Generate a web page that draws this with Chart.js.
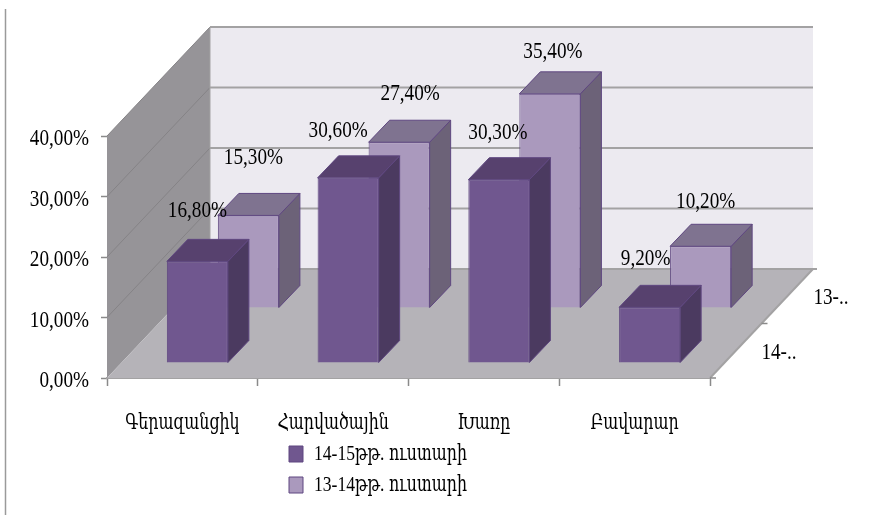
<!DOCTYPE html>
<html>
<head>
<meta charset="utf-8">
<style>
body{margin:0;background:#fff}
canvas{display:block;filter:blur(.35px)}
</style>
<script src="https://cdn.jsdelivr.net/npm/chart.js@4"></script>
</head>
<body>
<canvas id="chart" width="884" height="515"></canvas>
<script>
const categories = ["Գերազանցիկ","Հարվածային","Խառը","Բավարար"];
const series1Name = "14-15թթ. ուստարի";
const series2Name = "13-14թթ. ուստարի";
const series1 = [16.8,30.6,30.3,9.2];
const series2 = [15.3,27.4,35.4,10.2];
const depthLabels = ["14-..","13-.."];

const FONT = "'Liberation Serif','DejaVu Serif Condensed','DejaVu Serif',serif";
const fmt = v => v.toFixed(2).replace(".",",")+"%";

// depth of the fake 3d box
const wall = {dx:103,dy:-109};
const bar3d = {dx:21,dy:-22};
const shift = [{dx:15,dy:-15},{dx:66,dy:-70}];
const barCol = [
  {front:"#70578f",side:"#4b3a60",top:"#57416e"},
  {front:"#aa99bd",side:"#6c6278",top:"#7f7390"}
];
const labelOff = [[[0,-51],[-10,-47],[-1,-47],[-4,-49]],[[5,-58],[11,-49],[3,-42],[5,-45]]];

function poly(ctx,pts,fill,stroke){
  ctx.beginPath();
  pts.forEach((p,i)=> i ? ctx.lineTo(p[0],p[1]) : ctx.moveTo(p[0],p[1]));
  ctx.closePath();
  if(fill){ctx.fillStyle=fill;ctx.fill();}
  if(stroke){ctx.strokeStyle=stroke;ctx.lineWidth=1;ctx.stroke();}
}
function line(ctx,x1,y1,x2,y2,col,w){
  ctx.beginPath();ctx.moveTo(x1,y1);ctx.lineTo(x2,y2);
  ctx.strokeStyle=col;ctx.lineWidth=w||1;ctx.stroke();
}

const canvas = document.getElementById("chart");
// the reference text is squeezed sideways, no condensed serif is installed so do it here
const ctx2d = canvas.getContext("2d");
const plainFillText = ctx2d.fillText;
ctx2d.fillText = function(t,x,y,m){
  this.save();
  this.translate(x,y);
  this.scale(.8,1);
  plainFillText.call(this,t,0,0);
  this.restore();
};

const box3d = {
  id:"box3d",
  afterLayout(chart){
    const l = chart.legend;
    l.left = 280; l.right = l.left+l.width;
    l.top = 434; l.bottom = l.top+l.height;
  },
  beforeDatasetsDraw(chart){
    const {ctx,chartArea:a,scales:{y}} = chart;
    const l=a.left,r=a.right,b=y.getPixelForValue(0),t=y.getPixelForValue(40);
    const dx=wall.dx,dy=wall.dy;
    ctx.save();
    // page edge line
    line(ctx,5.5,9,5.5,515,"#9a9a9a",1.5);
    poly(ctx,[[l+dx,t+dy],[r+dx,t+dy],[r+dx,b+dy],[l+dx,b+dy]],"#eceaf0");
    poly(ctx,[[l,t],[l+dx,t+dy],[l+dx,b+dy],[l,b]],"#969498");
    poly(ctx,[[l,b],[r,b],[r+dx,b+dy],[l+dx,b+dy]],"#b5b3b8");
    y.ticks.forEach(tk=>{
      if(tk.value==0) return;
      const p=y.getPixelForValue(tk.value);
      line(ctx,l,p,l+dx,p+dy,"#858386",1);
      line(ctx,l+dx,p+dy,r+dx,p+dy,"#a3a2a3",2);
    });
    line(ctx,l+dx,t+dy,l+dx,b+dy,"#a3a2a3",1);
    line(ctx,l+dx,b+dy,r+dx+4,b+dy,"#a3a2a3",2);
    // depth axis on the right of the floor
    line(ctx,r,b,r+dx,b+dy,"#a3a2a3",2);
    line(ctx,r+dx/2,b+dy/2,r+dx/2+6,b+dy/2,"#8a8a8a",1.5);
    line(ctx,r,b,r+6,b,"#8a8a8a",1.5);
    ctx.fillStyle="#000";ctx.font="24px "+FONT;ctx.textAlign="center";ctx.textBaseline="middle";
    ctx.fillText(depthLabels[0],r+69,b-25);
    ctx.fillText(depthLabels[1],r+121,b-80);
    ctx.restore();
  },
  beforeDatasetDraw(chart,args){
    const ctx=chart.ctx,s=shift[args.index],c=barCol[args.index];
    ctx.save();
    ctx.translate(s.dx,s.dy);
    args.meta.data.forEach(bar=>{
      const w=bar.width/2,x0=bar.x-w,x1=bar.x+w,top=bar.y,base=bar.base;
      const dx=bar3d.dx,dy=bar3d.dy;
      poly(ctx,[[x1,top],[x1+dx,top+dy],[x1+dx,base+dy],[x1,base]],c.side,"#5f4780");
      poly(ctx,[[x0,top],[x0+dx,top+dy],[x1+dx,top+dy],[x1,top]],c.top,"#5f4780");
    });
  },
  afterDatasetDraw(chart){
    chart.ctx.restore();
  },
  afterDatasetsDraw(chart){
    const ctx=chart.ctx;
    ctx.save();
    ctx.font="24px "+FONT;ctx.fillStyle="#000";ctx.textAlign="center";ctx.textBaseline="middle";
    // back series first, same as the bars
    [1,0].forEach(i=>{
      const meta=chart.getDatasetMeta(i),s=shift[i];
      meta.data.forEach((bar,j)=>{
        const o=labelOff[i][j];
        ctx.fillText(fmt(chart.data.datasets[i].data[j]),bar.x+s.dx+o[0],bar.y+s.dy+o[1]);
      });
    });
    ctx.restore();
  }
};

new Chart(canvas,{
  type:"bar",
  data:{
    labels:categories,
    datasets:[
      {label:series1Name,data:series1,backgroundColor:barCol[0].front,borderColor:"#5f4780",borderWidth:1,clip:false},
      {label:series2Name,data:series2,backgroundColor:barCol[1].front,borderColor:"#5f4780",borderWidth:1,clip:false}
    ]
  },
  options:{
    responsive:false,
    animation:false,
    layout:{padding:{left:0,top:136,right:174,bottom:0}},
    datasets:{bar:{grouped:false,categoryPercentage:.405,barPercentage:1}},
    plugins:{
      tooltip:{enabled:false},
      legend:{
        position:"chartArea",
        align:"start",
        labels:{font:{family:FONT,size:22},color:"#000",boxWidth:14,boxHeight:16,padding:9}
      }
    },
    scales:{
      x:{
        afterFit(s){s.height=137;},
        border:{color:"#a3a2a3",width:2},
        grid:{display:true,offset:true,drawOnChartArea:false,drawTicks:true,tickLength:8,tickColor:"#8a8a8a",tickWidth:1.5},
        ticks:{font:{family:FONT,size:22},color:"#000",padding:24,maxRotation:0}
      },
      y:{
        min:0,max:40,
        afterFit(s){s.width=107;},
        border:{color:"#a3a2a3",width:1},
        grid:{drawOnChartArea:false,tickLength:6,tickColor:"#8a8a8a",tickWidth:1.5},
        ticks:{stepSize:10,font:{family:FONT,size:24},color:"#000",padding:12,labelOffset:3,callback:v=>fmt(v)}
      }
    }
  },
  plugins:[box3d]
});
</script>
</body>
</html>
